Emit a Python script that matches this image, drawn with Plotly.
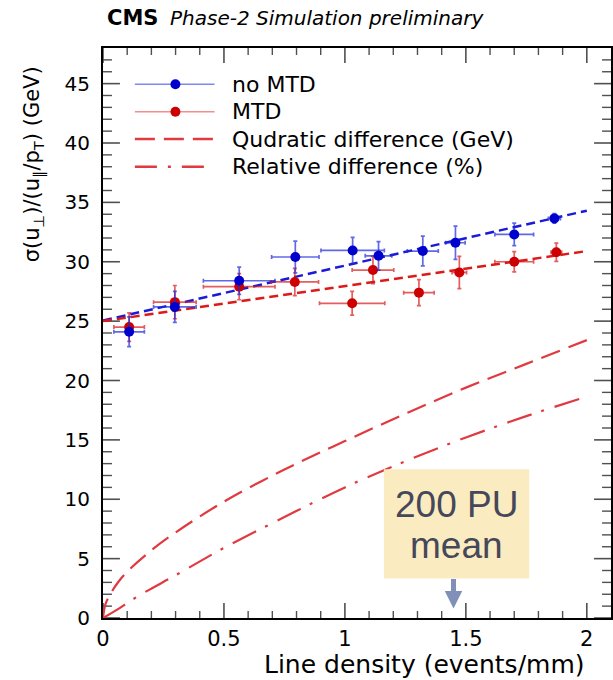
import plotly.graph_objects as go

# ---------------- data ----------------
x_nomtd = [0.108, 0.297, 0.563, 0.795, 1.032, 1.139, 1.322, 1.457, 1.700, 1.866]
y_nomtd = [24.1, 26.2, 28.4, 30.4, 30.95, 30.5, 30.9, 31.6, 32.3, 33.65]
xerr_nomtd = [0.063, 0.088, 0.148, 0.098, 0.131, 0.055, 0.064, 0.040, 0.080, 0.025]
yerr_nomtd = [1.25, 1.30, 1.15, 1.33, 1.10, 1.20, 1.25, 1.40, 0.95, 0.40]

x_mtd = [0.108, 0.297, 0.563, 0.793, 1.030, 1.116, 1.306, 1.473, 1.700, 1.874]
y_mtd = [24.5, 26.6, 27.9, 28.3, 26.5, 29.3, 27.4, 29.1, 30.0, 30.8]
xerr_mtd = [0.063, 0.088, 0.148, 0.098, 0.135, 0.086, 0.063, 0.030, 0.080, 0.022]
yerr_mtd = [1.20, 1.40, 1.10, 1.15, 1.00, 1.15, 1.10, 1.36, 0.85, 0.77]

fit_x = [0.0, 2.0]
fit_nomtd = [25.05, 34.3]
fit_mtd = [25.0, 30.9]

quad_x = [0, 0.01, 0.03, 0.06, 0.1, 0.2, 0.3, 0.5, 0.75, 1.0, 1.25, 1.5, 1.75, 2.0]
quad_y = [0, 1.15, 2.0, 2.95, 3.9, 5.7, 7.2, 9.8, 12.5, 14.9, 17.2, 19.4, 21.4, 23.4]

rel_x = [0, 0.05, 0.15, 0.3, 0.5, 0.75, 1.0, 1.25, 1.5, 1.75, 2.0]
rel_y = [0, 0.6, 1.9, 3.6, 5.9, 8.5, 11.0, 13.2, 15.2, 17.0, 18.65]

legend_labels = ["no MTD", "MTD", "Qudratic difference (GeV)", "Relative difference (%)"]
pu_mean_x = 1.449

X_RANGE = [0, 2.1]
Y_RANGE = [0, 48]
x_major = [0, 0.5, 1.0, 1.5, 2.0]
x_major_text = ["0", "0.5", "1", "1.5", "2"]
y_major = [0, 5, 10, 15, 20, 25, 30, 35, 40, 45]
x_minor = [round(0.1 * i, 1) for i in range(1, 21) if i % 5]
y_minor = [i for i in range(1, 48) if i % 5]

# ---------------- styles ----------------
BLUE = "#0000cc"
RED = "#cc0000"
BLUE_ERR = "rgba(30,40,220,0.7)"
RED_ERR = "rgba(215,25,25,0.7)"
CURVE_RED = "#e03a40"
ROOT_FONT = "DejaVu Sans"
TICK_COL = "#505050"

W, H = 613, 680
L, R, T, B = 103, 0, 48, 62
PW, PH = W - L - R, H - T - B
XU = (X_RANGE[1] - X_RANGE[0]) / PW   # data units per pixel, x
YU = (Y_RANGE[1] - Y_RANGE[0]) / PH   # data units per pixel, y


def px2x(px):
    return (px - L) / PW


def py2y(py):
    return (H - B - py) / PH


fig = go.Figure()


# ROOT-style inside ticks on all four sides, drawn as short line segments
def xticks_trace(vals, length_px, width):
    xs, ys = [], []
    dl = length_px * YU
    for v in vals:
        xs += [v, v, None, v, v, None]
        ys += [Y_RANGE[0], Y_RANGE[0] + dl, None, Y_RANGE[1], Y_RANGE[1] - dl, None]
    return go.Scatter(x=xs, y=ys, mode="lines", hoverinfo="skip", showlegend=False,
                      line=dict(color=TICK_COL, width=width))


def yticks_trace(vals, length_px, width):
    xs, ys = [], []
    dl = length_px * XU
    for v in vals:
        xs += [X_RANGE[0], X_RANGE[0] + dl, None, X_RANGE[1], X_RANGE[1] - dl, None]
        ys += [v, v, None, v, v, None]
    return go.Scatter(x=xs, y=ys, mode="lines", hoverinfo="skip", showlegend=False,
                      line=dict(color=TICK_COL, width=width))


fig.add_trace(xticks_trace(x_major, 15, 1.6))
fig.add_trace(xticks_trace(x_minor, 7, 1.4))
fig.add_trace(yticks_trace(y_major, 17, 1.6))
fig.add_trace(yticks_trace(y_minor, 9, 1.4))

# fit lines
fig.add_trace(go.Scatter(x=fit_x, y=fit_nomtd, mode="lines",
                         line=dict(color="#1a1ad8", width=2.5, dash="9px,5px"),
                         showlegend=False, hoverinfo="skip"))
fig.add_trace(go.Scatter(x=fit_x, y=fit_mtd, mode="lines",
                         line=dict(color="#dd1a1a", width=2.5, dash="9px,5px"),
                         showlegend=False, hoverinfo="skip"))

# difference curves
fig.add_trace(go.Scatter(x=quad_x, y=quad_y, mode="lines",
                         line=dict(color=CURVE_RED, width=2.2, dash="20px,9px", shape="spline"),
                         showlegend=False))
fig.add_trace(go.Scatter(x=rel_x, y=rel_y, mode="lines",
                         line=dict(color=CURVE_RED, width=2.2, dash="26px,10px,3px,11px", shape="spline"),
                         showlegend=False))

# data points
fig.add_trace(go.Scatter(x=x_mtd, y=y_mtd, mode="markers",
                         marker=dict(color=RED, size=10),
                         error_x=dict(type="data", array=xerr_mtd, color=RED_ERR, thickness=1.7, width=2),
                         error_y=dict(type="data", array=yerr_mtd, color=RED_ERR, thickness=1.7, width=2),
                         showlegend=False))
fig.add_trace(go.Scatter(x=x_nomtd, y=y_nomtd, mode="markers",
                         marker=dict(color=BLUE, size=10),
                         error_x=dict(type="data", array=xerr_nomtd, color=BLUE_ERR, thickness=1.7, width=2),
                         error_y=dict(type="data", array=yerr_nomtd, color=BLUE_ERR, thickness=1.7, width=2),
                         showlegend=False))

shapes = []
annotations = []

# custom ROOT-style legend
leg_y = [84.3, 111.7, 139.0, 166.7]
leg_styles = [
    dict(color="rgba(40,60,230,0.6)", width=1.5, dash="solid"),
    dict(color="rgba(230,50,50,0.55)", width=1.5, dash="solid"),
    dict(color=CURVE_RED, width=2.5, dash="20px,9px"),
    dict(color=CURVE_RED, width=2.5, dash="22px,11px,3px,11px"),
]
leg_marker = [BLUE, RED, None, None]
for lab, ly, st, mc in zip(legend_labels, leg_y, leg_styles, leg_marker):
    shapes.append(dict(type="line", xref="paper", yref="paper",
                       x0=px2x(135), x1=px2x(215), y0=py2y(ly), y1=py2y(ly),
                       line=st))
    if mc:
        shapes.append(dict(type="circle", xref="paper", yref="paper",
                           x0=px2x(170.7), x1=px2x(180.7), y0=py2y(ly - 5), y1=py2y(ly + 5),
                           fillcolor=mc, line=dict(width=0)))
    annotations.append(dict(text=lab, xref="paper", yref="paper",
                            x=px2x(230), y=py2y(ly), xanchor="left", yanchor="middle",
                            showarrow=False, font=dict(family=ROOT_FONT, size=22, color="black")))

# "200 PU mean" box
shapes.append(dict(type="rect", xref="paper", yref="paper",
                   x0=px2x(385), x1=px2x(531), y0=py2y(578.5), y1=py2y(469.3),
                   fillcolor="#fbebc0", line=dict(width=0), layer="above"))
annotations.append(dict(text="200 PU", xref="paper", yref="paper", x=px2x(458), y=py2y(504),
                        xanchor="center", yanchor="middle", showarrow=False,
                        font=dict(family="Liberation Sans", size=37, color="#45475a")))
annotations.append(dict(text="mean", xref="paper", yref="paper", x=px2x(458), y=py2y(545.5),
                        xanchor="center", yanchor="middle", showarrow=False,
                        font=dict(family="Liberation Sans", size=37, color="#45475a")))
# arrow
annotations.append(dict(text="", x=pu_mean_x, y=0.8, xref="x", yref="y",
                        ax=0, ay=-31, showarrow=True, arrowhead=2, arrowsize=0.7,
                        arrowwidth=5, arrowcolor="#8090b8"))

# header
annotations.append(dict(text="<b>CMS</b>", xref="paper", yref="paper", x=px2x(105), y=py2y(32),
                        xanchor="left", yanchor="bottom", showarrow=False,
                        font=dict(family=ROOT_FONT, size=21, color="black")))
annotations.append(dict(text="<i>Phase-2 Simulation preliminary</i>", xref="paper", yref="paper",
                        x=px2x(168), y=py2y(32), xanchor="left", yanchor="bottom", showarrow=False,
                        font=dict(family=ROOT_FONT, size=20, color="black")))

# axis titles
annotations.append(dict(text="Line density (events/mm)", xref="x", yref="paper", x=2.0, y=py2y(681),
                        xanchor="right", yanchor="bottom", showarrow=False,
                        font=dict(family=ROOT_FONT, size=25, color="black")))
annotations.append(dict(text="σ(u<sub>⊥</sub>)/(u<sub>∥</sub>/p<sub>T</sub>) (GeV)", xref="paper", yref="paper",
                        x=px2x(33), y=py2y(164), xanchor="center", yanchor="middle", textangle=-90,
                        showarrow=False, font=dict(family=ROOT_FONT, size=21, color="black")))

common = dict(showline=True, linewidth=2, linecolor="black", mirror=True,
              showgrid=False, zeroline=False, ticks="")

fig.update_layout(
    width=W, height=H,
    margin=dict(l=L, r=R, t=T, b=B),
    paper_bgcolor="white", plot_bgcolor="white",
    showlegend=False,
    shapes=shapes, annotations=annotations,
    xaxis=dict(range=X_RANGE, tickvals=x_major, ticktext=x_major_text,
               tickfont=dict(family=ROOT_FONT, size=21, color="black"), ticklabelstandoff=1, **common),
    yaxis=dict(range=Y_RANGE, tickvals=y_major,
               tickfont=dict(family=ROOT_FONT, size=20, color="black"), ticklabelstandoff=7, **common),
)

fig.write_html("out.html")
